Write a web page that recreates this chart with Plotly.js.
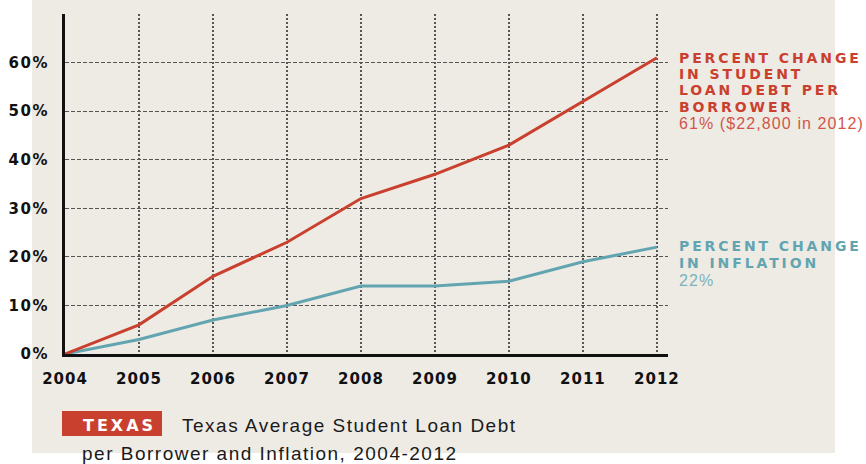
<!DOCTYPE html>
<html>
<head>
<meta charset="utf-8">
<script src="https://cdn.plot.ly/plotly-3.0.1.min.js"></script>
<style>
  html, body { margin: 0; padding: 0; background: #ffffff; }
  #chart { width: 866px; height: 464px; }
  .xtick text { letter-spacing: 1px; }
  .ytick text { letter-spacing: 1.5px; }
</style>
</head>
<body>
<div id="chart"></div>
<script>
// ---- data ----
const years = [2004, 2005, 2006, 2007, 2008, 2009, 2010, 2011, 2012];
const studentDebtPct = [0, 6, 16, 23, 32, 37, 43, 52, 61];
const inflationPct = [0, 3, 7, 10, 14, 14, 15, 19, 22];
const yTickVals = [0, 10, 20, 30, 40, 50, 60];
const yTickText = ['0%', '10%', '20%', '30%', '40%', '50%', '60%'];
const debtLabelLines = ['PERCENT CHANGE', 'IN STUDENT', 'LOAN DEBT PER', 'BORROWER'];
const debtNote = '61% ($22,800 in 2012)';
const inflLabelLines = ['PERCENT CHANGE', 'IN INFLATION'];
const inflNote = '22%';
const badgeText = 'TEXAS';
const titleLines = ['Texas Average Student Loan Debt', 'per Borrower and Inflation, 2004-2012'];

// ---- geometry (pixels) ----
const W = 866, H = 464;
const M = { l: 65, r: 198, t: 14, b: 110 };
const PW = W - M.l - M.r, PH = H - M.t - M.b;
const px = x => (x - M.l) / PW;
const py = y => (H - M.b - y) / PH;

const RED = '#c9402e', TEAL = '#62a5b1';
const RED_LIGHT = '#d0564a', TEAL_LIGHT = '#79b3bd';
const BOLD = 'DejaVu Sans', REG = 'Liberation Sans, Arial, sans-serif';

const annotations = [];
const spacing = [];
function addText(text, x, y, font, ls) {
  annotations.push({
    text: text, xref: 'paper', yref: 'paper', x: px(x - 2), y: py(y),
    xanchor: 'left', yanchor: 'middle', align: 'left', showarrow: false,
    font: font
  });
  spacing.push(ls);
}
const debtY = [57.5, 74, 90.5, 107];
debtLabelLines.forEach((t, i) => addText(t, 679, debtY[i], { family: BOLD, size: 14, weight: 'bold', color: RED }, 2.9));
addText(debtNote, 679, 124, { family: REG, size: 16, color: RED_LIGHT }, 1.1);
const inflY = [246, 263];
inflLabelLines.forEach((t, i) => addText(t, 679, inflY[i], { family: BOLD, size: 14, weight: 'bold', color: TEAL }, 2.9));
addText(inflNote, 679, 280, { family: REG, size: 16, color: TEAL_LIGHT }, 1.1);
addText(badgeText, 83, 425, { family: BOLD, size: 16, weight: 'bold', color: '#ffffff' }, 3);
addText(titleLines[0], 182, 425, { family: REG, size: 19, color: '#1a1a1a' }, 1.5);
addText(titleLines[1], 82, 453, { family: REG, size: 19, color: '#1a1a1a' }, 1.5);

const shapes = [
  { type: 'rect', xref: 'paper', yref: 'paper', layer: 'below',
    x0: px(32), x1: px(835), y0: py(453), y1: py(0),
    fillcolor: '#eeebe5', line: { width: 0 } },
  { type: 'rect', xref: 'paper', yref: 'paper', layer: 'above',
    x0: px(62), x1: px(162), y0: py(436), y1: py(411),
    fillcolor: RED, line: { width: 0 } }
];

const traces = [
  { x: years, y: inflationPct, type: 'scatter', mode: 'lines',
    line: { color: TEAL, width: 3 }, hoverinfo: 'skip' },
  { x: years, y: studentDebtPct, type: 'scatter', mode: 'lines',
    line: { color: RED, width: 3 }, hoverinfo: 'skip' }
];

const layout = {
  width: W, height: H,
  margin: M,
  paper_bgcolor: '#ffffff',
  plot_bgcolor: 'rgba(0,0,0,0)',
  showlegend: false,
  xaxis: {
    range: [2004, 2012.15],
    tickvals: years, ticktext: years.map(String),
    showgrid: true, gridcolor: '#555555', gridwidth: 1.5, griddash: '2px,2px',
    showline: true, linecolor: '#111111', linewidth: 3,
    zeroline: false, ticks: '', ticklabelstandoff: 9,
    tickfont: { family: BOLD, size: 15, weight: 'bold', color: '#111111' },
    fixedrange: true
  },
  yaxis: {
    range: [0, 70],
    tickvals: yTickVals, ticktext: yTickText,
    showgrid: true, gridcolor: '#555555', gridwidth: 1.2, griddash: '4px,2px',
    showline: true, linecolor: '#111111', linewidth: 3,
    zeroline: false, ticks: '', ticklabelstandoff: 10,
    tickfont: { family: BOLD, size: 15, weight: 'bold', color: '#111111' },
    fixedrange: true
  },
  shapes: shapes,
  annotations: annotations
};

Plotly.newPlot('chart', traces, layout, { staticPlot: true, displayModeBar: false }).then(() => {
  spacing.forEach((ls, i) => {
    document.querySelectorAll('g.annotation[data-index="' + i + '"] text').forEach(t => {
      t.style.letterSpacing = ls + 'px';
    });
  });
});
</script>
</body>
</html>
